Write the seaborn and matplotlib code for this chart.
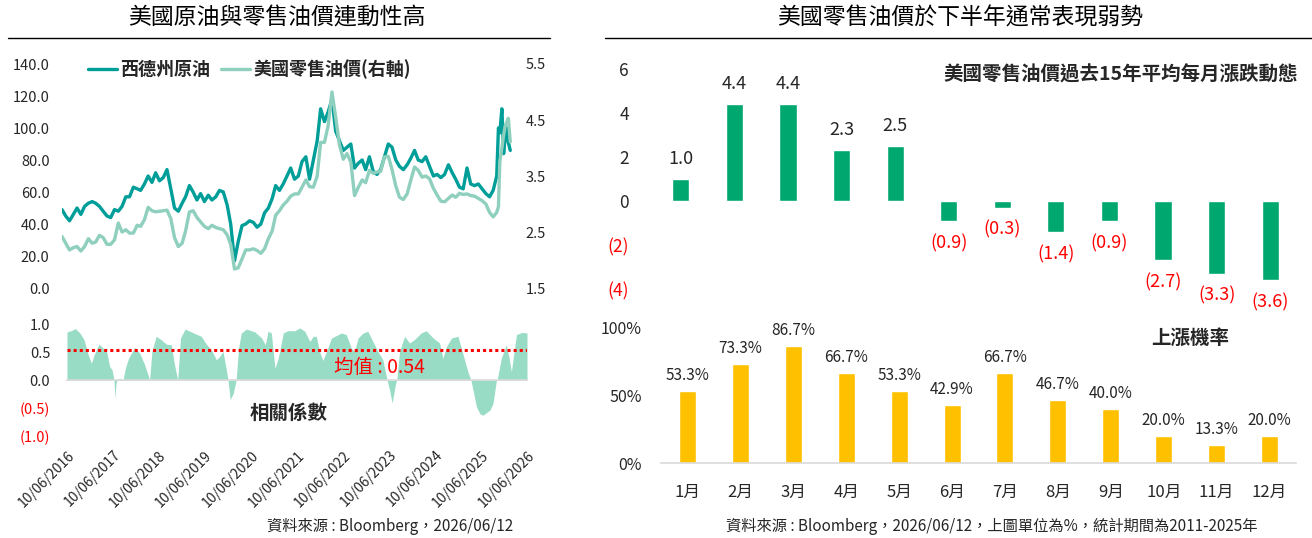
import pandas as pd
import matplotlib
matplotlib.use("Agg")
import matplotlib.pyplot as plt
from matplotlib.lines import Line2D
import seaborn as sns

# ---- data ----
# WTI (USD/bbl) and US retail gasoline (USD/gal), one value per month 2016-06 .. 2025-12
wti_monthly = [
    49, 45, 42, 46, 50, 46, 51,
    53, 54, 53, 51, 48, 45, 44, 49, 48, 51, 57, 57,
    63, 62, 61, 65, 70, 66, 72, 67, 69, 74, 62, 50,
    48, 53, 57, 64, 60, 55, 59, 54, 58, 55, 57, 61,
    60, 52, 40, 17, 29, 39, 40, 42, 41, 38, 40, 47,
    50, 56, 64, 61, 65, 70, 75, 68, 70, 79, 82, 68,
    80, 92, 112, 104, 110, 118, 98, 92, 86, 88, 90, 75,
    78, 80, 74, 82, 73, 71, 74, 82, 90, 88, 80, 76,
    74, 77, 81, 86, 80, 79, 82, 76, 70, 71, 69, 71,
    77, 72, 68, 63, 62, 75, 65, 64, 65, 62, 59, 57,
]
gas_monthly = [
    2.42, 2.30, 2.18, 2.22, 2.24, 2.16, 2.24,
    2.38, 2.30, 2.32, 2.44, 2.40, 2.28, 2.28, 2.36, 2.66, 2.50, 2.54, 2.48,
    2.48, 2.62, 2.60, 2.72, 2.94, 2.88, 2.86, 2.87, 2.88, 2.89, 2.74, 2.40,
    2.24, 2.30, 2.52, 2.86, 2.88, 2.76, 2.68, 2.60, 2.56, 2.62, 2.58, 2.56,
    2.54, 2.45, 2.28, 1.84, 1.86, 2.02, 2.18, 2.18, 2.20, 2.17, 2.12, 2.20,
    2.38, 2.52, 2.80, 2.88, 2.98, 3.05, 3.14, 3.18, 3.18, 3.30, 3.43, 3.31,
    3.30, 3.50, 4.10, 4.10, 4.40, 5.00, 4.55, 4.05, 3.80, 3.90, 3.75, 3.15,
    3.30, 3.43, 3.38, 3.60, 3.55, 3.57, 3.58, 3.84, 3.85, 3.62, 3.32, 3.12,
    3.08, 3.18, 3.42, 3.66, 3.60, 3.48, 3.50, 3.45, 3.28, 3.16, 3.05, 3.04,
    3.10, 3.16, 3.12, 3.19, 3.17, 3.18, 3.15, 3.14, 3.10, 3.06, 3.00, 2.85,
]
# 2026 moves faster, so read at a finer step
late_dates = ["2026-01-08", "2026-02-06", "2026-02-20", "2026-03-03", "2026-03-20",
              "2026-04-03", "2026-04-16", "2026-04-27", "2026-05-11", "2026-05-27"]
wti_late = [61, 70, 100, 97, 112, 84, 95, 100, 91, 86]
gas_late = [2.77, 2.85, 2.95, 3.76, 4.00, 4.23, 4.40, 4.45, 4.53, 4.11]

# rolling correlation between the two
corr_dates = [
    "2016-06-10", "2016-07-13", "2016-08-15", "2016-09-20", "2016-10-23", "2016-11-25", "2016-12-20",
    "2017-01-12", "2017-02-18", "2017-03-10", "2017-04-20", "2017-05-15", "2017-06-03", "2017-06-18",
    "2017-06-25", "2017-07-05", "2017-07-20", "2017-08-04", "2017-08-29", "2017-09-16", "2017-10-12",
    "2017-11-28",
    "2018-01-08", "2018-02-17", "2018-03-28", "2018-04-15", "2018-05-19", "2018-06-28", "2018-08-08",
    "2018-09-16", "2018-10-12", "2018-11-06", "2018-11-28",
    "2019-01-04", "2019-02-20", "2019-05-12", "2019-06-21", "2019-07-31", "2019-09-09", "2019-10-05",
    "2019-10-31", "2019-11-25", "2019-12-10", "2019-12-28",
    "2020-01-22", "2020-02-13", "2020-03-03", "2020-03-25", "2020-05-04", "2020-07-09", "2020-09-02",
    "2020-10-01", "2020-10-23", "2020-11-18", "2020-12-17",
    "2021-01-12", "2021-02-21", "2021-03-29", "2021-05-23", "2021-07-02", "2021-08-11", "2021-09-20",
    "2021-10-16", "2021-11-10", "2021-12-06",
    "2022-01-01", "2022-01-30", "2022-03-11", "2022-05-30", "2022-07-06", "2022-08-15", "2022-09-09",
    "2022-10-08", "2022-11-17", "2022-12-24",
    "2023-02-02", "2023-03-14", "2023-04-23", "2023-05-26", "2023-06-17", "2023-07-05", "2023-07-31",
    "2023-08-11", "2023-09-02", "2023-10-12", "2023-11-21", "2023-12-28",
    "2024-02-21", "2024-04-01", "2024-05-26", "2024-07-16", "2024-08-11", "2024-09-09", "2024-10-19",
    "2024-12-09",
    "2025-01-19", "2025-02-28", "2025-03-22", "2025-04-13", "2025-05-05", "2025-05-31", "2025-06-25",
    "2025-07-24", "2025-08-19", "2025-09-13", "2025-10-09", "2025-10-16", "2025-11-18", "2025-12-28",
    "2026-01-19", "2026-02-06", "2026-03-18", "2026-05-01", "2026-06-10",
]
corr_values = [
    0.86, 0.88, 0.92, 0.84, 0.72, 0.45, 0.30,
    0.45, 0.64, 0.60, 0.51, 0.24, 0.18, 0.0, -0.32, -0.05, 0.02, 0.03, 0.0, 0.21, 0.39, 0.58,
    0.48, 0.27, 0.0, 0.51, 0.78, 0.72, 0.64, 0.63, 0.27, 0.0, 0.75,
    0.91, 0.86, 0.78, 0.64, 0.54, 0.36, 0.42, 0.51, 0.21, 0.0, -0.35,
    -0.23, 0.0, 0.57, 0.84, 0.91, 0.86, 0.75, 0.63, 0.87, 0.84, 0.21,
    0.39, 0.84, 0.88, 0.88, 0.93, 0.87, 0.69, 0.78, 0.78, 0.51,
    0.35, 0.51, 0.75, 0.84, 0.81, 0.57, 0.51, 0.75, 0.84, 0.87,
    0.69, 0.51, 0.36, 0.0, -0.20, -0.41, -0.08, 0.0, 0.51, 0.78, 0.66, 0.72,
    0.84, 0.88, 0.75, 0.66, 0.39, 0.60, 0.75, 0.78,
    0.45, 0.13, 0.0, -0.24, -0.48, -0.60, -0.63, -0.58, -0.54, -0.42, -0.02, 0.0, 0.39, 0.63,
    0.39, 0.15, 0.81, 0.85, 0.84,
]
corr_mean = 0.54

months = [f"{m}月" for m in range(1, 13)]
avg_change = [1.0, 4.4, 4.4, 2.3, 2.5, -0.9, -0.3, -1.4, -0.9, -2.7, -3.3, -3.6]
up_ratio = [53.3, 73.3, 86.7, 66.7, 53.3, 42.9, 66.7, 46.7, 40.0, 20.0, 13.3, 20.0]

# ---- style ----
sns.set_style("white")
plt.rcParams["font.family"] = ["Noto Sans CJK TC", "DejaVu Sans"]
plt.rcParams["axes.unicode_minus"] = False

DARK_TEAL = "#009E99"
LIGHT_TEAL = "#8ECFBD"
AREA = "#99DCC5"
GREEN = "#00A870"
GOLD = "#FFC000"
RED = "#FF0000"
TXT = "#262626"

W, H = 1312, 538
fig = plt.figure(figsize=(W / 100, H / 100), dpi=100)


def px_box(x0, y0, x1, y1):
    return [x0 / W, 1 - y1 / H, (x1 - x0) / W, (y1 - y0) / H]


def clean(ax):
    for s in ax.spines.values():
        s.set_visible(False)
    ax.set_xlabel("")
    ax.set_ylabel("")


start, end = pd.Timestamp("2016-06-10"), pd.Timestamp("2026-06-10")

# ---- left top: WTI vs retail gasoline ----
dates = list(pd.date_range("2016-06-10", periods=len(wti_monthly), freq=pd.DateOffset(months=1)))
dates += list(pd.to_datetime(late_dates))
df = pd.DataFrame({"date": dates, "wti": wti_monthly + wti_late, "gas": gas_monthly + gas_late})

ax1 = fig.add_axes(px_box(62, 64, 512, 288))
sns.lineplot(data=df, x="date", y="wti", color=DARK_TEAL, lw=2.4, ax=ax1)
ax2 = ax1.twinx()
sns.lineplot(data=df, x="date", y="gas", color=LIGHT_TEAL, lw=2.4, ax=ax2)
for a in (ax1, ax2):
    clean(a)
    a.set_xlim(start, end)
    a.set_xticks([])
ax1.set_ylim(0, 140)
ax1.set_yticks(range(0, 141, 20))
ax1.set_yticklabels([f"{v:.1f}" for v in range(0, 141, 20)])
ax1.tick_params(axis="y", length=0, pad=9, labelsize=10.5, labelcolor=TXT)
ax2.set_ylim(1.5, 5.5)
ax2.set_yticks([1.5, 2.5, 3.5, 4.5, 5.5])
ax2.set_yticklabels(["1.5", "2.5", "3.5", "4.5", "5.5"])
ax2.tick_params(axis="y", length=0, pad=10, labelsize=10.5, labelcolor=TXT)

ax1.legend([ax1.get_lines()[0], ax2.get_lines()[0]], ["西德州原油", "美國零售油價(右軸)"],
           loc="center left", bbox_to_anchor=(88 / W, 1 - 69 / H), bbox_transform=fig.transFigure,
           ncol=2, frameon=False, prop={"size": 13, "weight": "bold"}, handlelength=1.6,
           handletextpad=0.2, columnspacing=0.6, borderpad=0, borderaxespad=0)

# ---- left bottom: correlation ----
ax3 = fig.add_axes(px_box(67, 324, 527, 436))
cd = pd.to_datetime(corr_dates)
ax3.fill_between(cd, 0, corr_values, color=AREA, lw=0)
ax3.axhline(corr_mean, color=RED, lw=2.2, dashes=(1, 1))
clean(ax3)
ax3.set_xlim(start, end)
ax3.set_ylim(-1, 1)
ax3.spines["bottom"].set_visible(True)
ax3.spines["bottom"].set_position(("data", 0))
ax3.spines["bottom"].set_color("#D9D9D9")
ax3.spines["bottom"].set_linewidth(1.2)
tick_dates = [pd.Timestamp(f"{y}-06-10") for y in range(2016, 2027)]
ax3.set_xticks(tick_dates)
ax3.set_xticklabels([d.strftime("%d/%m/%Y") for d in tick_dates], rotation=45, ha="right",
                    va="top", rotation_mode="anchor")
ax3.tick_params(axis="x", direction="out", length=4, color="#BFBFBF", pad=45, labelsize=10,
                labelcolor=TXT)
ax3.set_yticks([1, 0.5, 0, -0.5, -1])
ax3.set_yticklabels(["1.0", "0.5", "0.0", "(0.5)", "(1.0)"])
ax3.tick_params(axis="y", length=0, pad=12, labelsize=10.5, labelcolor=TXT)
for lab in ax3.get_yticklabels()[3:]:
    lab.set_color(RED)

fig.text(289 / W, 1 - 413 / H, "相關係數", ha="center", va="center", fontsize=14,
         weight="bold", color=TXT)
fig.text(379 / W, 1 - 367 / H, "均值 : 0.54", ha="center", va="center", fontsize=14, color=RED)

# ---- right top: average monthly change ----
ax4 = fig.add_axes(px_box(654, 60, 1297, 300))
sns.barplot(x=months, y=avg_change, color=GREEN, saturation=1, width=0.32, ax=ax4)
clean(ax4)
ax4.set_xlim(-0.5, 11.5)
ax4.set_ylim(-4.5, 6.41)
ax4.set_xticks([])
ax4.set_yticks([6, 4, 2, 0, -2, -4])
ax4.set_yticklabels(["6", "4", "2", "0", "(2)", "(4)"])
ax4.tick_params(axis="y", length=0, pad=18, labelsize=12.5, labelcolor=TXT)
for lab in ax4.get_yticklabels()[4:]:
    lab.set_color(RED)
for i, v in enumerate(avg_change):
    if v >= 0:
        ax4.annotate(f"{v:.1f}", (i, v), xytext=(0, 14.5), textcoords="offset points",
                     ha="center", va="center", fontsize=13, color=TXT)
    else:
        ax4.annotate(f"({abs(v):.1f})", (i, v), xytext=(0, -16), textcoords="offset points",
                     ha="center", va="center", fontsize=13, color=RED)
fig.text(1298 / W, 1 - 75 / H, "美國零售油價過去15年平均每月漲跌動態", ha="right", va="center",
         fontsize=14, weight="bold", color=TXT)

# ---- right bottom: share of up months ----
ax5 = fig.add_axes(px_box(661, 320, 1296, 463))
sns.barplot(x=months, y=up_ratio, color=GOLD, saturation=1, width=0.32, ax=ax5)
clean(ax5)
ax5.spines["bottom"].set_visible(True)
ax5.spines["bottom"].set_color("#D9D9D9")
ax5.spines["bottom"].set_linewidth(1.2)
ax5.set_xlim(-0.5, 11.5)
ax5.set_ylim(0, 105.9)
ax5.set_yticks([0, 50, 100])
ax5.set_yticklabels(["0%", "50%", "100%"])
ax5.tick_params(axis="y", length=0, pad=14, labelsize=11.5, labelcolor=TXT)
ax5.tick_params(axis="x", length=0, pad=15, labelsize=12, labelcolor=TXT)
for i, v in enumerate(up_ratio):
    ax5.annotate(f"{v:.1f}%", (i, v), xytext=(0, 11), textcoords="offset points",
                 ha="center", va="center", fontsize=11, color=TXT)
fig.text(1190 / W, 1 - 338 / H, "上漲機率", ha="center", va="center", fontsize=14,
         weight="bold", color=TXT)

# ---- titles, rules, sources ----
fig.text(277 / W, 1 - 18 / H, "美國原油與零售油價連動性高", ha="center", va="center",
         fontsize=16.5, color="black")
fig.text(960 / W, 1 - 18 / H, "美國零售油價於下半年通常表現弱勢", ha="center", va="center",
         fontsize=16.5, color="black")
fig.add_artist(Line2D([8 / W, 550 / W], [1 - 38 / H] * 2, color="black", lw=1))
fig.add_artist(Line2D([605 / W, 1312 / W], [1 - 38 / H] * 2, color="black", lw=1))
fig.text(390 / W, 1 - 526 / H, "資料來源 : Bloomberg，2026/06/12", ha="center", va="center",
         fontsize=11, color=TXT)
fig.text(992 / W, 1 - 526 / H, "資料來源 : Bloomberg，2026/06/12，上圖單位為%，統計期間為2011-2025年",
         ha="center", va="center", fontsize=11, color=TXT)

fig.savefig("out.png", dpi=100)
